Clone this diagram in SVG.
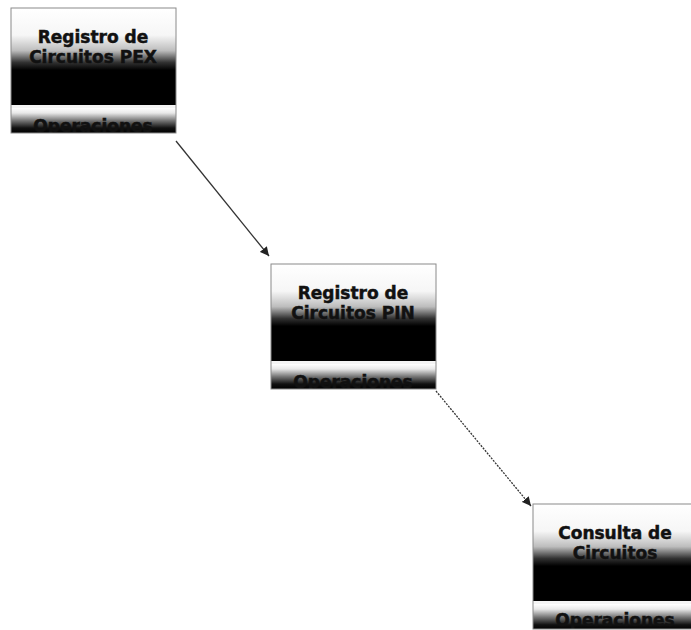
<svg xmlns="http://www.w3.org/2000/svg" width="691" height="630" viewBox="0 0 691 630">
<style>
.box{stroke:#8a8a8a;stroke-width:1}
.t{font-family:"DejaVu Sans",Verdana,sans-serif;font-weight:bold;font-size:17px;text-anchor:middle;fill:#111;stroke:#111;stroke-width:0.5}
.conn{fill:none;stroke:#333;stroke-width:1.3}
</style>
<defs>
<linearGradient id="hdr" x1="0" y1="0" x2="0" y2="1">
<stop offset="0" stop-color="#ffffff"/>
<stop offset="0.28" stop-color="#f6f6f6"/>
<stop offset="0.44" stop-color="#bdbdbd"/>
<stop offset="0.56" stop-color="#333"/>
<stop offset="0.64" stop-color="#000"/>
<stop offset="1" stop-color="#000"/>
</linearGradient>
<linearGradient id="ops" x1="0" y1="0" x2="0" y2="1">
<stop offset="0" stop-color="#ffffff"/>
<stop offset="0.2" stop-color="#e8e8e8"/>
<stop offset="0.5" stop-color="#777"/>
<stop offset="0.8" stop-color="#111"/>
<stop offset="1" stop-color="#000"/>
</linearGradient>
<clipPath id="clip"><rect x="0" y="0" width="165" height="125"/></clipPath>
<marker id="ah" viewBox="0 0 10 10" refX="10" refY="5" markerWidth="9" markerHeight="9" markerUnits="userSpaceOnUse" orient="auto">
<path d="M0,0 L10,5 L0,10 z" fill="#222"/>
</marker>
</defs>
<g id="connectors">
<line class="conn" x1="176" y1="141" x2="269" y2="256" marker-end="url(#ah)"/>
<line class="conn" x1="436" y1="391" x2="531" y2="506" stroke="#555" stroke-dasharray="2 1.2" marker-end="url(#ah)"/>
</g>
<g id="node-pex" transform="translate(11,8)">
<g clip-path="url(#clip)">
<rect x="0" y="0" width="165" height="97" fill="url(#hdr)"/>
<rect x="0" y="97" width="165" height="3" fill="#f4f4f4"/>
<rect x="0" y="100" width="165" height="25" fill="url(#ops)"/>
<text class="t" x="82" y="35">Registro de</text>
<text class="t" x="82" y="55">Circuitos PEX</text>
<text class="t" x="82" y="124">Operaciones</text>
</g>
<rect class="box" x="0" y="0" width="165" height="125" fill="none"/>
</g>
<g id="node-pin" transform="translate(271,264)">
<g clip-path="url(#clip)">
<rect x="0" y="0" width="165" height="97" fill="url(#hdr)"/>
<rect x="0" y="97" width="165" height="3" fill="#f4f4f4"/>
<rect x="0" y="100" width="165" height="25" fill="url(#ops)"/>
<text class="t" x="82" y="35">Registro de</text>
<text class="t" x="82" y="55">Circuitos PIN</text>
<text class="t" x="82" y="124">Operaciones</text>
</g>
<rect class="box" x="0" y="0" width="165" height="125" fill="none"/>
</g>
<g id="node-consulta" transform="translate(533,504)">
<g clip-path="url(#clip)">
<rect x="0" y="0" width="165" height="97" fill="url(#hdr)"/>
<rect x="0" y="97" width="165" height="3" fill="#f4f4f4"/>
<rect x="0" y="100" width="165" height="26" fill="url(#ops)"/>
<text class="t" x="82" y="35">Consulta de</text>
<text class="t" x="82" y="55">Circuitos</text>
<text class="t" x="82" y="122">Operaciones</text>
</g>
<rect class="box" x="0" y="0" width="165" height="125" fill="none"/>
</g>
</svg>
